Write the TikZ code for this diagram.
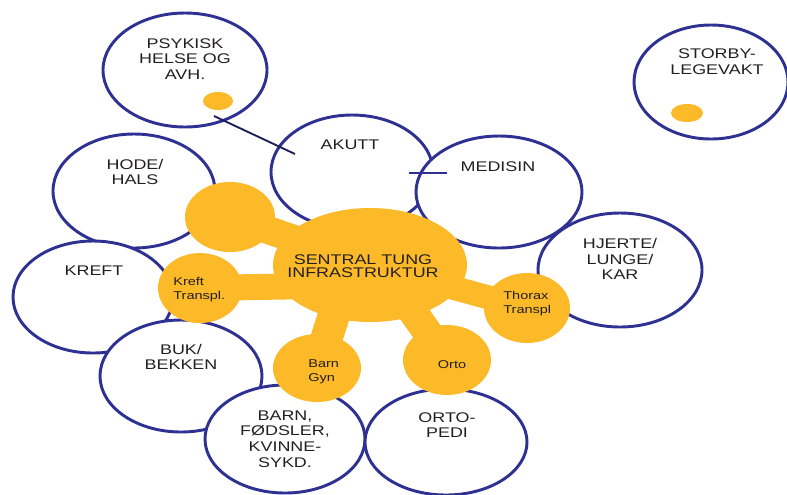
\documentclass[tikz,border=0pt]{standalone}
\usepackage{fontspec}
\setmainfont{Liberation Sans}
\usetikzlibrary{shapes.geometric}
\definecolor{cblue}{RGB}{46,49,146}
\definecolor{cyel}{RGB}{252,185,40}
\definecolor{ctext}{RGB}{35,31,32}
\definecolor{cnavy}{RGB}{30,30,90}
\begin{document}
\begin{tikzpicture}[x=0.75pt,y=-0.75pt,
 ell/.style 2 args={ellipse, draw=cblue, fill=white, line width=2.2pt, minimum width=#1*1.5pt, minimum height=#2*1.5pt, inner sep=0pt},
 yel/.style 2 args={ellipse, fill=cyel, minimum width=#1*1.5pt, minimum height=#2*1.5pt, inner sep=0pt},
 ybar/.style={draw=cyel, line width=#1},
 big/.style={font=\fontsize{10.5}{11.8}\selectfont, text=ctext, align=center, xscale=1.28, transform shape, inner sep=0pt},
 small/.style={font=\fontsize{8.5}{10.5}\selectfont, text=ctext, align=left, xscale=1.28, transform shape, inner sep=0pt}]
\fill[white] (0,0) rectangle (787,494);
\useasboundingbox (0,0) rectangle (787,494);
% white circles
\node[ell={82}{57}] (psy) at (185,70) {};
\node[ell={81}{57}] (akutt) at (352,172) {};
\node[ell={81}{57}] (hode) at (134,191) {};
\node[ell={80}{56}] (kreft) at (93,297) {};
\node[ell={81}{56}] (buk) at (181,376) {};
\node[ell={83}{56}] (medisin) at (499,192) {};
\node[ell={82}{57}] (hjerte) at (620,270) {};
\node[ell={80}{54}] (barn) at (285,439) {};
\node[ell={81}{53}] (orto) at (446,442) {};
\node[ell={77}{57}] (storby) at (711,82) {};
% small dots
\node[yel={15}{9}] (psydot) at (218,101) {};
\node[yel={16}{9}] (stdot) at (687,113) {};
% lines
\coordinate (p1) at (214,116);
\coordinate (p2) at (295,154);
\draw[cnavy, line width=1.4pt] (p1) -- (p2);
\coordinate (m1) at (409,173);
\coordinate (m2) at (447,173);
\draw[cblue, line width=2.2pt] (m1) -- (m2);
% yellow blob
\node[yel={97}{57}] (ctr) at (370,265) {};
\node[yel={45}{35}] (tl) at (230,217) {};
\node[yel={42}{35}] (kt) at (200,288) {};
\node[yel={43}{35}] (th) at (527,308) {};
\node[yel={44}{34}] (bg) at (317,368) {};
\node[yel={44}{35}] (or) at (447,360) {};
\coordinate (cb) at (350,265);
\coordinate (co) at (380,265);
\coordinate (ck) at (370,285);
\draw[ybar=21pt] (tl.center) -- (ctr.center);
\draw[ybar=19.5pt] (kt.center) -- (ck);
\draw[ybar=24pt] (bg.center) -- (cb);
\draw[ybar=22pt] (or.center) -- (co);
\draw[ybar=18pt] (th.center) -- (ctr.center);
% texts
\node[big] (tpsy) at (185,59) {PSYKISK\\HELSE OG\\AVH.};
\node[big] (thode) at (135,172) {HODE/\\HALS};
\node[big] (takutt) at (350,145) {AKUTT};
\node[big] (tmed) at (498,167) {MEDISIN};
\node[big] (thj) at (620,259) {HJERTE/\\LUNGE/\\KAR};
\node[big] (tkreft) at (94,271) {KREFT};
\node[big] (tbuk) at (181,357) {BUK/\\BEKKEN};
\node[big] (tbarn) at (285,439) {BARN,\\FØDSLER,\\KVINNE-\\SYKD.};
\node[big] (torto) at (447,425) {ORTO-\\PEDI};
\node[big] (tstor) at (717,62) {STORBY-\\LEGEVAKT};
\node[big, font=\fontsize{10.5}{10.2}\selectfont] (tctr) at (363,266) {SENTRAL TUNG\\INFRASTRUKTUR};
\node[small, anchor=west] (tkt) at (173,290) {Kreft\\Transpl.};
\node[small, anchor=west] (tth) at (503,304) {Thorax\\Transpl};
\node[small, anchor=west] (tbg) at (308,372) {Barn\\Gyn};
\node[small] (tor) at (452,365) {Orto};
\end{tikzpicture}
\end{document}
